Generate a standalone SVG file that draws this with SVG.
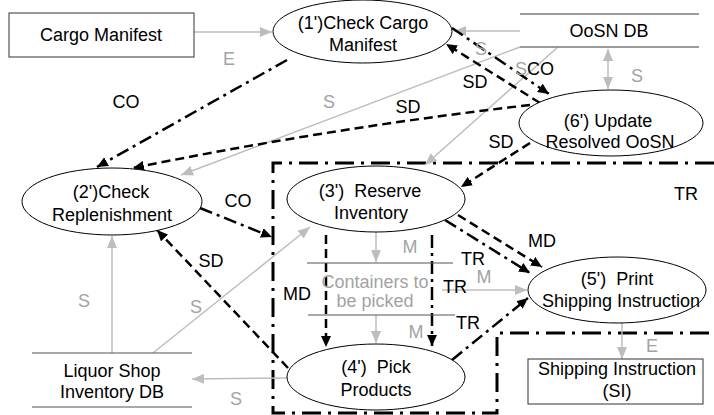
<svg xmlns="http://www.w3.org/2000/svg" width="714" height="415" viewBox="0 0 714 415">
  <style>
    text { font-family: "Liberation Sans", Arial, sans-serif; font-size: 18px; text-anchor: middle; fill: #000; }
    text.g { fill: #a3a3a3; }
    text.st { text-anchor: start; }
    .pre { white-space: pre; }
    .shape { fill: #fff; stroke: #000; stroke-width: 1; }
    .box { fill: #fff; stroke: #333; stroke-width: 1; }
    .store { stroke: #7a7a7a; stroke-width: 1.5; fill: none; }
    .store2 { stroke: #555; stroke-width: 1.2; fill: none; }
    .gray { stroke: #bdbdbd; stroke-width: 1.5; fill: none; marker-end: url(#ahGray); }
    .dash { stroke: #000; stroke-width: 2.5; fill: none; stroke-dasharray: 9 5; marker-end: url(#ahBlack); }
    .dd { stroke: #000; stroke-width: 2.5; fill: none; stroke-dasharray: 13 5 3 5; marker-end: url(#ahBlack); }
    .region { stroke: #000; stroke-width: 3; fill: none; stroke-dasharray: 19 7 3 7; }
  </style>
  <defs>
    <marker id="ahBlack" markerUnits="userSpaceOnUse" markerWidth="12" markerHeight="10" refX="11" refY="5" orient="auto">
      <path d="M0,0 L11,5 L0,10 z" fill="#000"/>
    </marker>
    <marker id="ahGray" markerUnits="userSpaceOnUse" markerWidth="13" markerHeight="10" refX="12" refY="5" orient="auto-start-reverse">
      <path d="M0,0 L12,5 L0,10 z" fill="#bdbdbd"/>
    </marker>
  </defs>

  <!-- transaction region boundary -->
  <g id="region-tr">
    <path class="region" d="M714,163 L273,163 L273,413 L497,413 L497,333 L714,333"/>
    <text x="686" y="200">TR</text>
  </g>

  <!-- connectors -->
  <g id="connectors">
    <!-- gray data flows -->
    <line class="gray" x1="194" y1="32" x2="272" y2="32"/>
    <line class="gray" x1="520" y1="31" x2="454" y2="31"/>
    <line class="gray" x1="608" y1="49" x2="608" y2="89" marker-start="url(#ahGray)"/>
    <line class="gray" x1="520" y1="47" x2="181" y2="175"/>
    <line class="gray" x1="558" y1="47" x2="425" y2="165"/>
    <line class="gray" x1="112" y1="353" x2="112" y2="236"/>
    <line class="gray" x1="153" y1="353" x2="310" y2="227"/>
    <line class="gray" x1="287" y1="378" x2="192" y2="379"/>
    <line class="gray" x1="376" y1="232" x2="376" y2="262"/>
    <line class="gray" x1="376" y1="315" x2="376" y2="343"/>
    <line class="gray" x1="442" y1="290" x2="527" y2="290"/>
    <line class="gray" x1="622" y1="322" x2="622" y2="359"/>

    <!-- black control / dependency flows -->
    <line class="dd" x1="452" y1="28" x2="549" y2="94"/>
    <line class="dash" x1="540" y1="103" x2="446" y2="44"/>
    <path class="dash" d="M530,105 Q330,128 133,168"/>
    <line class="dd" x1="287" y1="60" x2="97" y2="167"/>
    <line class="dash" x1="530" y1="143" x2="461" y2="187"/>
    <line class="dd" x1="200" y1="208" x2="272" y2="237"/>
    <line class="dash" x1="288" y1="368" x2="157" y2="230"/>
    <line class="dash" x1="326" y1="235" x2="326" y2="347"/>
    <line class="dd" x1="432" y1="235" x2="432" y2="346"/>
    <line class="dd" x1="445" y1="220" x2="530" y2="273"/>
    <line class="dash" x1="458" y1="215" x2="542" y2="267"/>
    <line class="dd" x1="452" y1="360" x2="528" y2="298"/>
  </g>

  <!-- connector labels -->
  <g id="connector-labels">
    <text class="g" x="229" y="65">E</text>
    <text x="126" y="108">CO</text>
    <text class="g" x="481" y="55">S</text>
    <text class="g st" x="515" y="75">S</text>
    <text class="st" x="527" y="75">CO</text>
    <text x="475" y="88">SD</text>
    <text class="g" x="637" y="82">S</text>
    <text x="408" y="113">SD</text>
    <text class="g" x="329" y="108">S</text>
    <text x="501" y="148">SD</text>
    <text x="238" y="207">CO</text>
    <text x="211" y="267">SD</text>
    <text x="542" y="247">MD</text>
    <text class="g" x="410" y="253">M</text>
    <text x="473" y="265">TR</text>
    <text class="g" x="484" y="283">M</text>
    <text x="455" y="293">TR</text>
    <text x="297" y="300">MD</text>
    <text x="468" y="329">TR</text>
    <text class="g" x="416" y="338">M</text>
    <text class="g" x="84" y="307">S</text>
    <text class="g" x="196" y="313">S</text>
    <text class="g" x="236" y="405">S</text>
    <text class="g" x="652" y="352">E</text>
  </g>

  <!-- nodes -->
  <g id="cargo-manifest">
    <rect class="box" x="9" y="13" width="185" height="44"/>
    <text x="101" y="41">Cargo Manifest</text>
  </g>

  <g id="check-cargo-manifest">
    <ellipse class="shape" cx="362.5" cy="31.5" rx="89.5" ry="31.5"/>
    <text x="363" y="29">(1')Check Cargo</text>
    <text x="363" y="51">Manifest</text>
  </g>

  <g id="oosn-db">
    <line class="store" x1="520" y1="14" x2="699" y2="14"/>
    <line class="store" x1="520" y1="47" x2="699" y2="47"/>
    <text x="609" y="37">OoSN DB</text>
  </g>

  <g id="update-resolved-oosn">
    <ellipse class="shape" cx="611" cy="123" rx="92" ry="33"/>
    <text x="608" y="127">(6') Update</text>
    <text x="610" y="148">Resolved OoSN</text>
  </g>

  <g id="check-replenishment">
    <ellipse class="shape" cx="112" cy="201.5" rx="90" ry="33.5"/>
    <text x="111" y="198">(2')Check</text>
    <text x="112" y="221">Replenishment</text>
  </g>

  <g id="reserve-inventory">
    <ellipse class="shape" cx="376" cy="199" rx="89" ry="33"/>
    <text class="pre" x="370" y="197">(3')  Reserve</text>
    <text x="371" y="219">Inventory</text>
  </g>

  <g id="containers-to-be-picked">
    <line class="store2" x1="307" y1="263" x2="453" y2="263"/>
    <line class="store2" x1="308" y1="315" x2="455" y2="315"/>
    <text class="g" x="375" y="288">Containers to</text>
    <text class="g" x="375" y="307">be picked</text>
  </g>

  <g id="pick-products">
    <ellipse class="shape" cx="376" cy="377" rx="89" ry="33"/>
    <text class="pre" x="376" y="373">(4')  Pick</text>
    <text x="376" y="396">Products</text>
  </g>

  <g id="print-shipping-instruction">
    <ellipse class="shape" cx="617" cy="290" rx="89" ry="33"/>
    <text class="pre" x="617" y="285">(5')  Print</text>
    <text x="621" y="307">Shipping Instruction</text>
  </g>

  <g id="shipping-instruction">
    <rect class="box" x="528" y="359" width="175" height="45"/>
    <text x="617" y="375">Shipping Instruction</text>
    <text x="617" y="397">(SI)</text>
  </g>

  <g id="liquor-shop-db">
    <line class="store2" x1="32" y1="353" x2="192" y2="353"/>
    <line class="store2" x1="32" y1="407" x2="192" y2="407"/>
    <text x="112" y="377">Liquor Shop</text>
    <text x="112" y="398">Inventory DB</text>
  </g>
</svg>
